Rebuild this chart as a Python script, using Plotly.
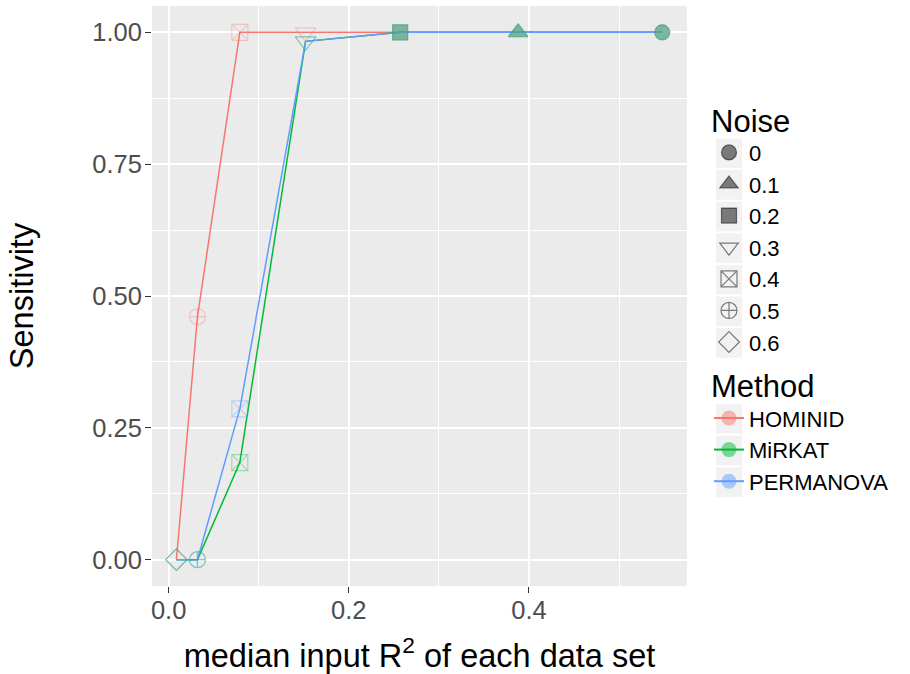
import plotly.graph_objects as go

# ---- data ----
noise_levels = ["0.6", "0.5", "0.4", "0.3", "0.2", "0.1", "0"]
median_r2 = [0.0086, 0.032, 0.079, 0.152, 0.257, 0.388, 0.548]
hominid = [0.0, 0.461, 1.0, 1.0, 1.0, 1.0, 1.0]
mirkat = [0.0, 0.0, 0.184, 0.983, 1.0, 1.0, 1.0]
permanova = [0.0, 0.0, 0.286, 0.983, 1.0, 1.0, 1.0]

methods = ["HOMINID", "MiRKAT", "PERMANOVA"]
method_values = {"HOMINID": hominid, "MiRKAT": mirkat, "PERMANOVA": permanova}
method_colors = {"HOMINID": (248, 118, 109), "MiRKAT": (0, 186, 56), "PERMANOVA": (97, 156, 255)}

noise_order = ["0", "0.1", "0.2", "0.3", "0.4", "0.5", "0.6"]
noise_symbols = {
    "0": "circle", "0.1": "triangle-up", "0.2": "square",
    "0.3": "triangle-down-open", "0.4": "square-x-open",
    "0.5": "circle-cross-open", "0.6": "diamond-open",
}
noise_sizes = {"0": 15, "0.1": 17, "0.2": 15, "0.3": 18, "0.4": 16, "0.5": 16, "0.6": 16.5}

x_ticks = [0.0, 0.2, 0.4]
x_ticklabels = ["0.0", "0.2", "0.4"]
y_ticks = [0.0, 0.25, 0.5, 0.75, 1.0]
y_ticklabels = ["0.00", "0.25", "0.50", "0.75", "1.00"]

def rgba(c, a):
    return f"rgba({c[0]},{c[1]},{c[2]},{a})"

fig = go.Figure()

# lines
for m in methods:
    fig.add_trace(go.Scatter(
        x=median_r2, y=method_values[m], mode="lines",
        line=dict(color=rgba(method_colors[m], 1), width=1.5),
        showlegend=False, hoverinfo="skip"))

# points (semi-transparent)
for m in ["HOMINID", "PERMANOVA", "MiRKAT"]:
    fig.add_trace(go.Scatter(
        x=median_r2, y=method_values[m], mode="markers",
        marker=dict(
            symbol=[noise_symbols[n] for n in noise_levels],
            size=[noise_sizes[n] for n in noise_levels],
            color=rgba(method_colors[m], 0.5),
            line=dict(width=1.2, color=rgba(method_colors[m], 0.5)),
        ),
        showlegend=False))

# Noise legend
for n in noise_order:
    fig.add_trace(go.Scatter(
        x=[None], y=[None], mode="markers", name=n, legend="legend",
        marker=dict(symbol=noise_symbols[n], size=noise_sizes[n],
                    color="rgba(0,0,0,0.5)", line=dict(width=1.2, color="rgba(0,0,0,0.5)"))))

# Method legend
for m in methods:
    fig.add_trace(go.Scatter(
        x=[None], y=[None], mode="lines+markers", name=m, legend="legend2",
        line=dict(color=rgba(method_colors[m], 1), width=2),
        marker=dict(symbol="circle", size=15, color=rgba(method_colors[m], 0.5))))

font_family = "Liberation Sans, Arial, Helvetica, sans-serif"

# layout geometry (pixels)
W, H = 910, 674
ML, MR, MT, MB = 152, 223, 6, 88
PW, PH = W - ML - MR, H - MT - MB
LEG_X_PX = 709
LEG1_TOP, LEG2_TOP = 91.3, 356.9
ITEM_OFFSET, ITEM_STEP = 62.0, 31.6

def px_x(p):
    return (p - ML) / PW

def px_y(p):
    return (H - MB - p) / PH

# grey key backgrounds behind legend symbols
key_shapes = []
for top, count in [(LEG1_TOP, len(noise_order)), (LEG2_TOP, len(methods))]:
    for i in range(count):
        cy = top + ITEM_OFFSET + ITEM_STEP * i
        key_shapes.append(dict(
            type="rect", xref="paper", yref="paper",
            x0=px_x(716), x1=px_x(742), y0=px_y(cy + 14.8), y1=px_y(cy - 14.8),
            fillcolor="#F2F2F2", line=dict(width=0), layer="below"))

axis_common = dict(
    showgrid=True, gridcolor="white", gridwidth=2, automargin=False,
    zeroline=False, ticks="outside", ticklen=6, tickwidth=1.2, tickcolor="#333333",
    tickfont=dict(size=25.5, color="#4D4D4D", family=font_family),
    showline=False,
)

fig.update_layout(
    width=W, height=H,
    margin=dict(l=ML, r=MR, t=MT, b=MB, pad=0),
    paper_bgcolor="white", plot_bgcolor="#EBEBEB",
    font=dict(family=font_family, color="black"),
    shapes=key_shapes,
    xaxis=dict(axis_common, range=[-0.0185, 0.5755], tickvals=x_ticks, ticktext=x_ticklabels,
               ticklabelstandoff=-5,
               minor=dict(dtick=0.1, tick0=0, showgrid=True, gridcolor="white", gridwidth=1, ticks=""),
               title=dict(text="median input R<sup>2</sup> of each data set", font=dict(size=32.5), standoff=22)),
    yaxis=dict(axis_common, range=[-0.05, 1.05], tickvals=y_ticks, ticktext=y_ticklabels,
               ticklabelstandoff=-2,
               minor=dict(dtick=0.125, tick0=0, showgrid=True, gridcolor="white", gridwidth=1, ticks=""),
               title=dict(text="Sensitivity", font=dict(size=32.5), standoff=48)),
    legend=dict(title=dict(text="Noise", font=dict(size=31)), font=dict(size=22),
                x=px_x(LEG_X_PX), y=px_y(LEG1_TOP), xanchor="left", yanchor="top", tracegroupgap=0,
                bgcolor="rgba(0,0,0,0)", itemsizing="trace"),
    legend2=dict(title=dict(text="Method", font=dict(size=31)), font=dict(size=22),
                 x=px_x(LEG_X_PX), y=px_y(LEG2_TOP), xanchor="left", yanchor="top",
                 bgcolor="rgba(0,0,0,0)", itemsizing="trace"),
)

fig.write_html("out.html", config={"displayModeBar": False},
               post_script="document.body.style.margin='0';document.body.style.padding='0';")
